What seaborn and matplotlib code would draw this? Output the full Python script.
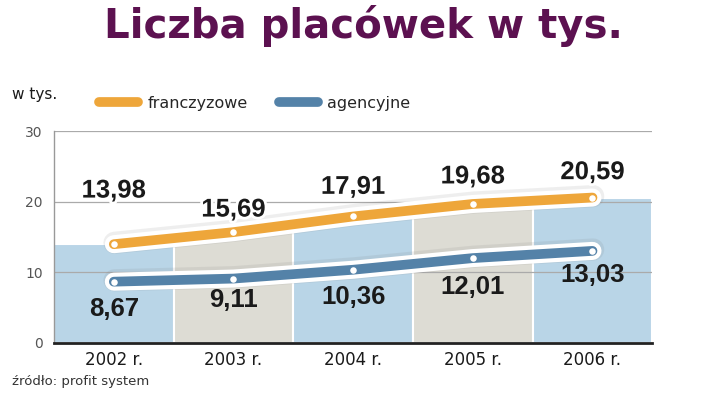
import numpy as np
import pandas as pd
import matplotlib
matplotlib.use("Agg")
import matplotlib.pyplot as plt
import matplotlib.patheffects as pe
from matplotlib.lines import Line2D
import seaborn as sns

years = ["2002 r.", "2003 r.", "2004 r.", "2005 r.", "2006 r."]
franczyzowe = [13.98, 15.69, 17.91, 19.68, 20.59]
agencyjne = [8.67, 9.11, 10.36, 12.01, 13.03]
fr_labels = ["13,98", "15,69", "17,91", "19,68", "20,59"]
ag_labels = ["8,67", "9,11", "10,36", "12,01", "13,03"]
y_ticks = [0, 10, 20, 30]

ORANGE = "#eea63a"
BLUE = "#5482a8"
BAR_BLUE = "#b9d5e7"
BAR_GRAY = "#dddcd4"
PURPLE = "#5c1150"

sns.set_theme(style="white")
plt.rcParams["font.family"] = ["DejaVu Sans"]

fig = plt.figure(figsize=(7.2, 3.95), dpi=100)
ax = fig.add_axes([0.075, 0.132, 0.831, 0.536])

df = pd.DataFrame({"year": years, "fr": franczyzowe, "ag": agencyjne})
bar_colors = [BAR_BLUE, BAR_GRAY, BAR_BLUE, BAR_GRAY, BAR_BLUE]
sns.barplot(data=df, x="year", y="fr", hue="year", palette=bar_colors,
            saturation=1, width=1.0, edgecolor="white", linewidth=1.5,
            legend=False, ax=ax, zorder=1)

ax.set_ylim(0, 30)
ax.set_xlim(-0.5, 4.5)
ax.set_yticks(y_ticks)
for t in y_ticks[1:]:
    ax.axhline(t, color="#aaaaaa", lw=0.9, zorder=2)

pos = np.arange(len(years))
line_df = pd.DataFrame({"x": np.concatenate([pos, pos]),
                        "y": franczyzowe + agencyjne,
                        "s": ["franczyzowe"] * 5 + ["agencyjne"] * 5})
sns.lineplot(data=line_df, x="x", y="y", hue="s",
             palette={"franczyzowe": ORANGE, "agencyjne": BLUE},
             lw=7, legend=False, ax=ax, zorder=4)
for ln in ax.lines[-2:]:
    ln.set_solid_capstyle("round")
    ln.set_path_effects([pe.SimpleLineShadow(offset=(0.5, 1.0), shadow_color="#777777", alpha=0.12, linewidth=16),
                         pe.Stroke(linewidth=13, foreground="white"), pe.Normal()])
ax.scatter(pos, franczyzowe, s=22, color="white", zorder=5, linewidths=0)
ax.scatter(pos, agencyjne, s=22, color="white", zorder=5, linewidths=0)

fr_off = [7.6, 3.2, 4.2, 3.9, 3.6]
ag_off = [-3.9, -3.0, -3.8, -4.1, -3.4]
halo = [pe.withStroke(linewidth=4, foreground="white")]
lab_font = ["Liberation Sans", "DejaVu Sans"]
for i in range(len(years)):
    ax.text(pos[i], franczyzowe[i] + fr_off[i], fr_labels[i], ha="center", va="center",
            fontsize=18.5, fontweight="bold", family=lab_font, color="#1a1a1a",
            zorder=6, path_effects=halo)
    ax.text(pos[i], agencyjne[i] + ag_off[i], ag_labels[i], ha="center", va="center",
            fontsize=18.5, fontweight="bold", family=lab_font, color="#1a1a1a", zorder=6)

ax.set_xlabel("")
ax.set_ylabel("")
ax.tick_params(axis="x", labelsize=12, colors="#1a1a1a", pad=6, length=0)
ax.tick_params(axis="y", labelsize=10, colors="#555555", pad=8, length=0)
for s in ["top", "right"]:
    ax.spines[s].set_visible(False)
ax.spines["left"].set_color("#999999")
ax.spines["left"].set_linewidth(1.0)
ax.spines["bottom"].set_color("#222222")
ax.spines["bottom"].set_linewidth(2.0)
ax.spines["bottom"].set_zorder(7)

fig.text(0.505, 0.905, "Liczba placówek w tys.", ha="center", va="baseline",
         fontsize=29, fontweight="heavy", color=PURPLE)
fig.text(0.017, 0.76, "w tys.", ha="left", va="center", fontsize=11, color="#1a1a1a")

handles = [Line2D([0], [0], color=ORANGE, lw=7, solid_capstyle="round"),
           Line2D([0], [0], color=BLUE, lw=7, solid_capstyle="round")]
fig.legend(handles, ["franczyzowe", "agencyjne"], loc="center left",
           bbox_to_anchor=(0.118, 0.738), ncol=2, frameon=False, fontsize=11.5,
           handlelength=2.4, columnspacing=2.0, handletextpad=0.6)

fig.text(0.017, 0.035, "źródło: profit system", ha="left", va="center",
         fontsize=9.5, color="#333333")

fig.savefig("out.png", dpi=100)
